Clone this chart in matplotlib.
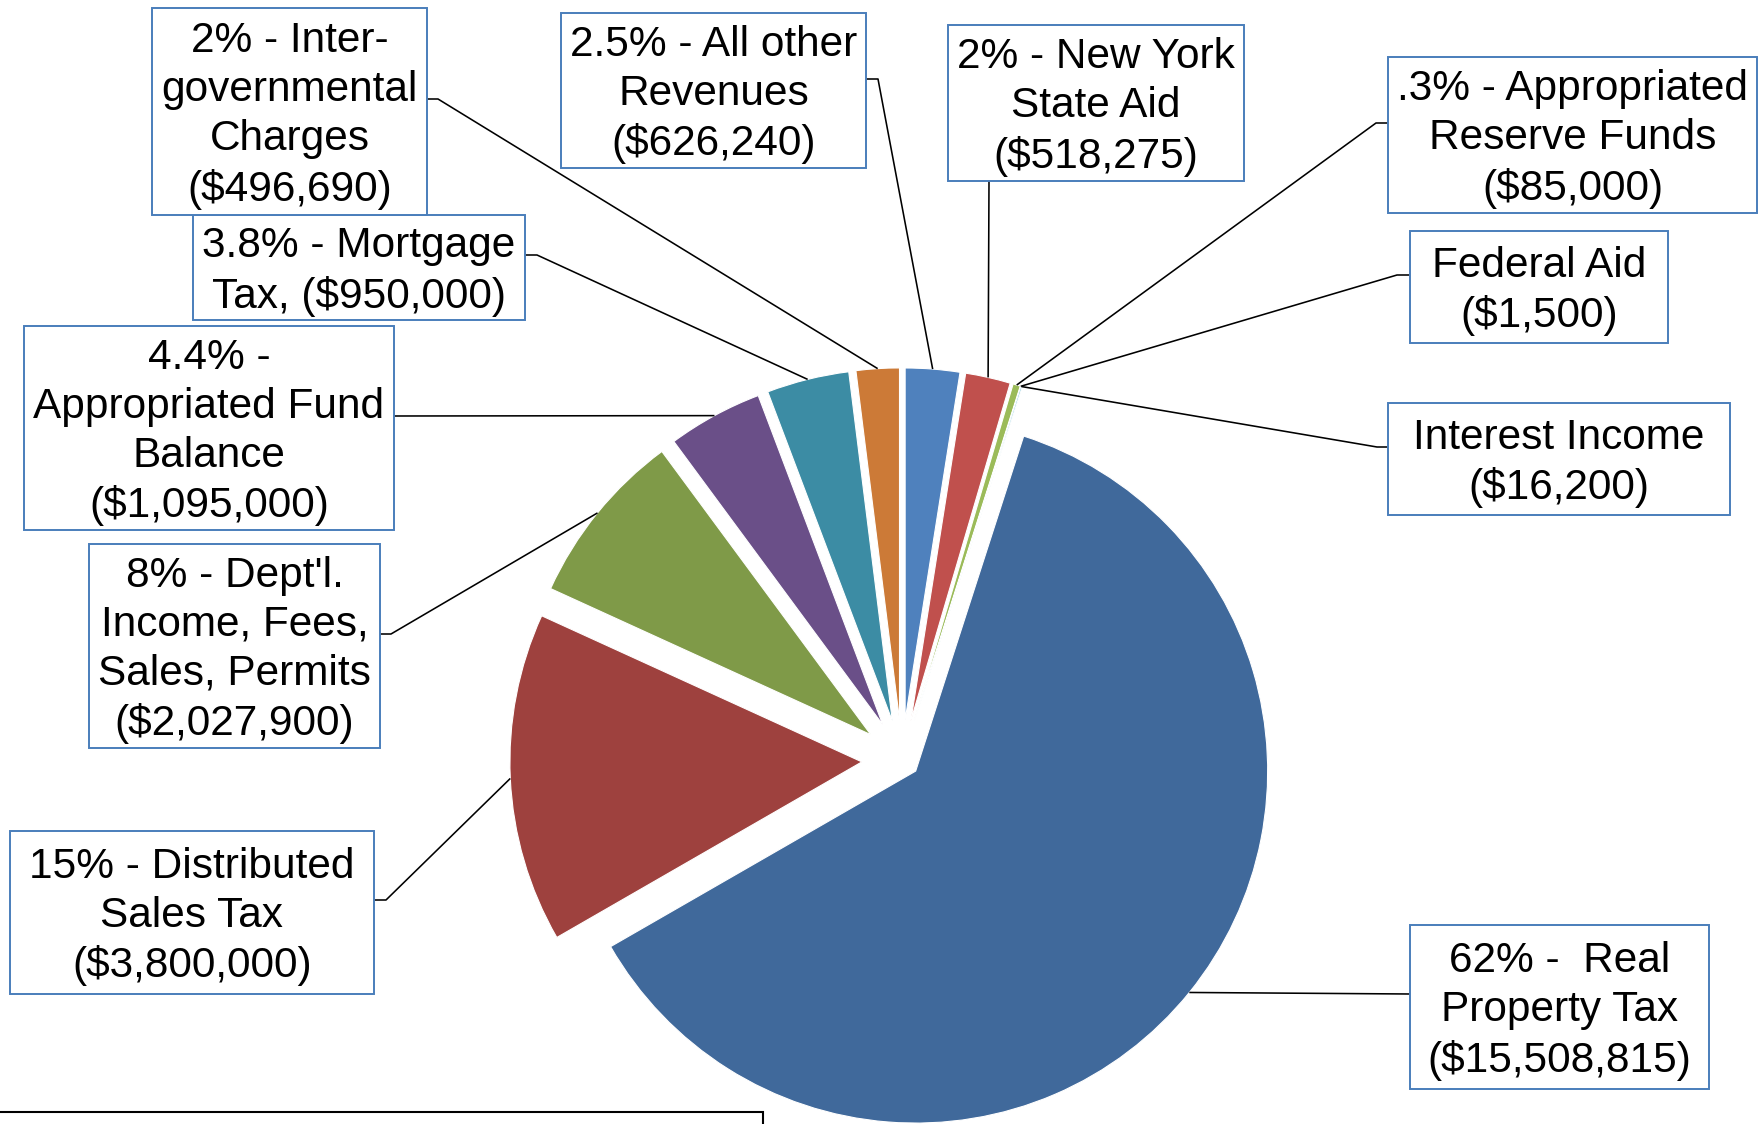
import numpy as np
import matplotlib
matplotlib.use("Agg")
import matplotlib.pyplot as plt
from matplotlib.patches import Rectangle

plt.rcParams['font.family'] = ['Liberation Sans', 'DejaVu Sans']

# revenue amounts, clockwise from 12 o'clock (same order as the Excel series)
amounts = [626240, 518275, 85000, 1500, 16200, 15508815,
           3800000, 2027900, 1095000, 950000, 496690]

labels = [
    "2.5% - All other\nRevenues\n($626,240)",
    "2% - New York\nState Aid\n($518,275)",
    ".3% - Appropriated\nReserve Funds\n($85,000)",
    "Federal Aid\n($1,500)",
    "Interest Income\n($16,200)",
    "62% -  Real\nProperty Tax\n($15,508,815)",
    "15% - Distributed\nSales Tax\n($3,800,000)",
    "8% - Dept'l.\nIncome, Fees,\nSales, Permits\n($2,027,900)",
    "4.4% -\nAppropriated Fund\nBalance\n($1,095,000)",
    "3.8% - Mortgage\nTax, ($950,000)",
    "2% - Inter-\ngovernmental\nCharges\n($496,690)",
]

colors = ['#4F81BD', '#C0504D', '#9BBB59', '#8064A2', '#4BACC6', '#40699B',
          '#9E413E', '#7F9A48', '#6A4F88', '#3C8CA4', '#CC7A37']

explode_frac = [0.114, 0.114, 0.114, 0.114, 0.114, 0.05,
                0.114, 0.114, 0.114, 0.114, 0.114]

# label boxes in image pixels (left, top, right, bottom) + leader start points
box_layout = [
    (561, 13, 866, 168, [(866, 79), (878, 79)]),
    (948, 25, 1244, 181, [(989, 181)]),
    (1388, 57, 1757, 213, [(1388, 123), (1376, 123)]),
    (1410, 231, 1668, 343, [(1410, 275), (1397, 275)]),
    (1388, 403, 1730, 515, [(1388, 447), (1377, 447)]),
    (1410, 925, 1709, 1089, [(1410, 994)]),
    (10, 831, 374, 994, [(374, 900), (386, 900)]),
    (89, 544, 380, 748, [(380, 634), (391, 634)]),
    (24, 326, 394, 530, [(394, 416)]),
    (193, 215, 525, 320, [(525, 255), (537, 255)]),
    (152, 8, 427, 215, [(427, 99), (438, 99)]),
]

W, H = 1759, 1124
R = 352
CX, CY = 902, H - 760

fig = plt.figure(figsize=(W / 100, H / 100), dpi=100)
ax = fig.add_axes([0, 0, 1, 1])

wedges, _ = ax.pie(amounts, colors=colors, startangle=90, counterclock=False,
                   radius=R, center=(CX, CY),
                   explode=[e * R for e in explode_frac],
                   wedgeprops=dict(edgecolor='white', linewidth=0.8))
ax.set_xlim(0, W)
ax.set_ylim(0, H)
ax.set_aspect('auto')
ax.axis('off')

for w, text, (l, t, r, b, pts) in zip(wedges, labels, box_layout):
    # leader line: box edge -> short stub -> middle of the wedge's arc
    mid = np.deg2rad((w.theta1 + w.theta2) / 2)
    ex = w.center[0] + w.r * np.cos(mid)
    ey = w.center[1] + w.r * np.sin(mid)
    xs = [p[0] for p in pts] + [ex]
    ys = [H - p[1] for p in pts] + [ey]
    ax.plot(xs, ys, color='black', lw=1.15, zorder=2, solid_capstyle='butt')

    ax.add_patch(Rectangle((l, H - b), r - l, b - t, facecolor='white',
                           edgecolor='#4A7EBB', lw=1.4, zorder=3))
    ax.text((l + r) / 2, H - (t + b) / 2 - 4, text, ha='center', va='center',
            multialignment='center', fontsize=30.5, linespacing=1.29,
            color='black', zorder=4)

# edge of a text box below the chart, mostly cut off
ax.add_patch(Rectangle((-5, -10), 768, 22, facecolor='none',
                       edgecolor='black', lw=1.5, zorder=3))

fig.savefig("out.png", dpi=100)
